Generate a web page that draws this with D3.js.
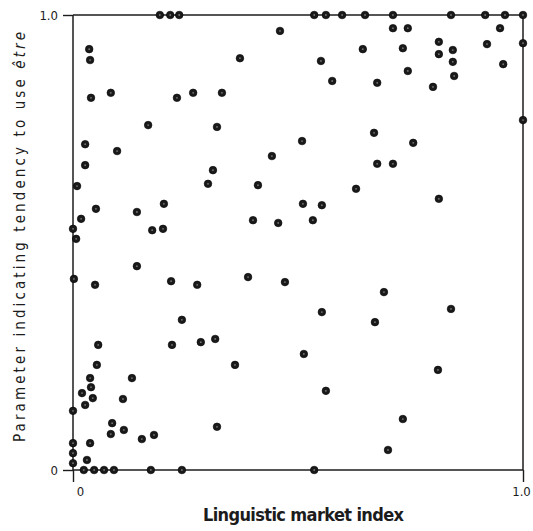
<!DOCTYPE html>
<html>
<head>
<meta charset="utf-8">
<script src="https://cdn.jsdelivr.net/npm/d3@7/dist/d3.min.js"></script>
<style>
  html, body { margin: 0; padding: 0; background: #fff; }
  svg { display: block; }
</style>
</head>
<body>
<svg id="chart" width="533" height="531"></svg>
<script>
// Linguistic market index (x) for each speaker
const marketIndex = [
  0.193, 0.216, 0.236, 0.536, 0.562, 0.598, 0.649, 0.711, 0.840, 0.916, 0.960, 1.000,
  1.000, 1.000,
  0.024, 0.047, 0.069, 0.091, 0.173, 0.242, 0.536,
  0.000, 0.000, 0.000, 0.000, 0.000, 0.002, 0.007,
  0.711, 0.744, 0.949, 0.644, 0.733, 0.813, 0.813, 0.844, 0.844, 0.847, 0.920, 0.956,
  0.744, 0.676, 0.800, 0.669, 0.756, 0.676, 0.711,
  0.460, 0.371, 0.551, 0.576, 0.231, 0.267, 0.331, 0.320, 0.509, 0.442, 0.311,
  0.036, 0.038, 0.040, 0.084, 0.167, 0.027, 0.098, 0.027,
  0.009, 0.051, 0.018, 0.142, 0.202, 0.176, 0.200, 0.142, 0.218, 0.049,
  0.300, 0.411, 0.511, 0.553, 0.400, 0.456, 0.533, 0.276, 0.389, 0.471, 0.242, 0.553,
  0.629, 0.813, 0.691, 0.840, 0.671,
  0.056, 0.220, 0.284, 0.316, 0.360, 0.513, 0.562, 0.053, 0.038, 0.040, 0.020, 0.044,
  0.027, 0.131, 0.111, 0.087, 0.084, 0.113, 0.153, 0.180, 0.038, 0.031, 0.320,
  0.811, 0.733, 0.700
];
// Parameter indicating tendency to use "être" (y)
const etreParam = [
  1.000, 1.000, 1.000, 1.000, 1.000, 1.000, 1.000, 1.000, 1.000, 1.000, 1.000, 1.000,
  0.938, 0.769,
  0.000, 0.000, 0.000, 0.000, 0.000, 0.000, 0.000,
  0.130, 0.059, 0.037, 0.015, 0.530, 0.420, 0.508,
  0.971, 0.971, 0.971, 0.925, 0.927, 0.941, 0.914, 0.923, 0.897, 0.866, 0.936, 0.892,
  0.877, 0.851, 0.842, 0.741, 0.719, 0.673, 0.673,
  0.965, 0.905, 0.899, 0.855, 0.818, 0.829, 0.829, 0.754, 0.723, 0.690, 0.659,
  0.925, 0.901, 0.818, 0.829, 0.758, 0.716, 0.701, 0.670,
  0.624, 0.574, 0.552, 0.567, 0.585, 0.527, 0.530, 0.448, 0.415, 0.407,
  0.629, 0.626, 0.585, 0.582, 0.549, 0.543, 0.549, 0.407, 0.424, 0.413, 0.330, 0.347,
  0.618, 0.596, 0.391, 0.354, 0.325,
  0.275, 0.275, 0.281, 0.288, 0.231, 0.255, 0.174, 0.231, 0.202, 0.182, 0.169, 0.158,
  0.143, 0.202, 0.156, 0.103, 0.079, 0.088, 0.068, 0.077, 0.059, 0.022, 0.095,
  0.220, 0.112, 0.044
];
const xTicks = [0, 1];
const xTickLabels = ["0", "1.0"];
const yTicks = [0, 1];
const yTickLabels = ["0", "1.0"];

const svg = d3.select("#chart");
const x = d3.scaleLinear().domain([0, 1]).range([73, 523]);
const y = d3.scaleLinear().domain([0, 1]).range([470, 15]);

const tickFont = "'Liberation Sans Narrow', 'DejaVu Sans Condensed', sans-serif";
const ink = "#1c1c1c";

// Left axis
const yAxis = d3.axisLeft(y).tickValues(yTicks)
  .tickFormat((d, i) => yTickLabels[i]).tickSize(10).tickPadding(5);
const gy = svg.append("g").attr("transform", `translate(${x(0)},0)`).call(yAxis);
gy.select(".domain").remove();
gy.selectAll(".tick line").attr("stroke", ink).attr("stroke-width", 1.4);
gy.selectAll(".tick text").attr("font-family", tickFont).attr("font-size", 13).attr("fill", ink);

// Bottom axis
const xAxis = d3.axisBottom(x).tickValues(xTicks)
  .tickFormat((d, i) => xTickLabels[i]).tickSize(12).tickPadding(5);
const gx = svg.append("g").attr("transform", `translate(0,${y(0)})`).call(xAxis);
gx.select(".domain").remove();
gx.selectAll(".tick line").attr("stroke", ink).attr("stroke-width", 1.4);
gx.selectAll(".tick text").attr("font-family", tickFont).attr("font-size", 13).attr("fill", ink)
  .attr("dx", (d, i) => i === 0 ? 7 : -2);

// Frame
const frame = svg.append("g").attr("stroke", ink).attr("stroke-width", 1.5).attr("fill", "none");
frame.append("line").attr("x1", x(0)).attr("x2", x(0)).attr("y1", y(1)).attr("y2", y(0));
frame.append("line").attr("x1", x(0)).attr("x2", x(1)).attr("y1", y(0)).attr("y2", y(0));
frame.append("line").attr("x1", x(0)).attr("x2", x(1)).attr("y1", y(1)).attr("y2", y(1));
frame.append("line").attr("x1", x(1)).attr("x2", x(1)).attr("y1", y(1)).attr("y2", y(0));

// Points
const pts = marketIndex.map((v, i) => ({ x: v, y: etreParam[i] }));
svg.append("g").selectAll("circle").data(pts).join("circle")
  .attr("cx", d => x(d.x)).attr("cy", d => y(d.y)).attr("r", 3.8)
  .attr("fill", "#1a1a1a").attr("stroke", "#000").attr("stroke-width", 0.6);
svg.append("g").selectAll("circle").data(pts).join("circle")
  .attr("cx", d => x(d.x)).attr("cy", d => y(d.y)).attr("r", 0.9)
  .attr("fill", "#777");

// Axis titles
svg.append("text")
  .attr("x", 203).attr("y", 521)
  .attr("font-family", "'DejaVu Sans Condensed', 'Liberation Sans Narrow', sans-serif")
  .attr("font-weight", "bold").attr("font-size", 18).attr("fill", ink)
  .attr("textLength", 201).attr("lengthAdjust", "spacing")
  .text("Linguistic market index");

const yl = svg.append("text")
  .attr("transform", "translate(25,442) rotate(-90)")
  .attr("x", 0).attr("y", 0)
  .attr("font-family", "'DejaVu Sans Condensed', 'Liberation Sans Narrow', sans-serif")
  .attr("font-size", 15).attr("fill", ink)
  .attr("textLength", 410).attr("lengthAdjust", "spacing");
yl.append("tspan").text("Parameter indicating tendency to use  ");
yl.append("tspan").attr("font-style", "italic").text("être");
</script>
</body>
</html>
